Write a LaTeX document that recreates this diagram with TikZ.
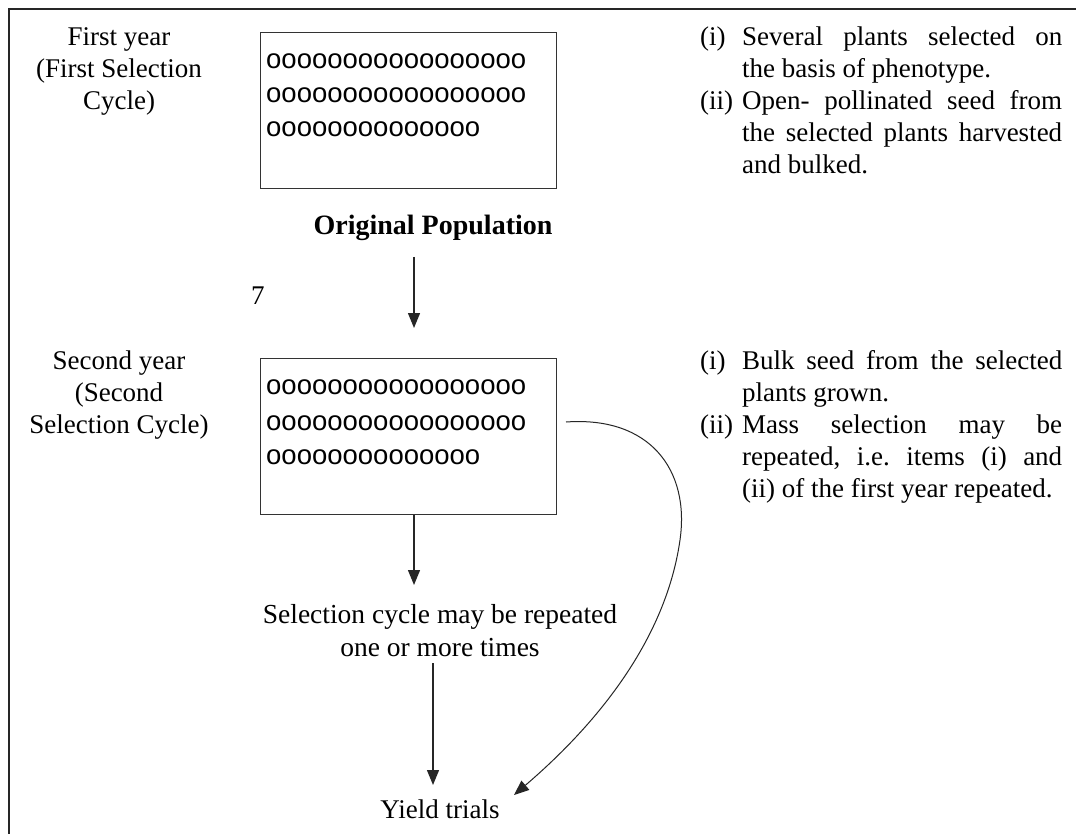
\documentclass[tikz,border=0pt]{standalone}
\usepackage{fontspec}
\setmainfont{Liberation Serif}
\newfontfamily\ofont{Liberation Sans}
\usetikzlibrary{arrows.meta}
\frenchspacing
\newcommand{\jline}[1]{\makebox[320pt][s]{#1}}
\newcommand{\nline}[1]{\makebox[320pt][l]{#1}}
\newcommand{\itemlbl}[1]{\makebox[42pt][l]{#1}}
\newcommand{\cpar}[2]{\parbox[t]{#1}{\centering #2}}
\begin{document}
\begin{tikzpicture}[x=1pt,y=-1pt,
  txt/.style={font=\fontsize{27}{32}\selectfont, inner sep=0pt},
  boldtxt/.style={font=\bfseries\fontsize{28}{32}\selectfont, inner sep=0pt},
  reptxt/.style={font=\fontsize{27.5}{33}\selectfont, inner sep=0pt},
  popbox/.style={draw=black!80, line width=1.3pt, inner sep=0pt, minimum width=296pt, minimum height=156pt, anchor=north west},
  orow/.style={font=\ofont\fontsize{27.5}{33}\selectfont, inner sep=0pt, anchor=base west},
  arr/.style={line width=1.3pt, black!85, -{Triangle[length=15pt,width=12pt]}},
  curv/.style={line width=1pt, black!85, -{Triangle[length=15pt,width=12pt]}},
]
\useasboundingbox (0,0) rectangle (1076,834);
\fill[white] (0,0) rectangle (1076,834);
\draw[line width=2.4pt, black!85] (9,834) -- (9,9) -- (1076,9);

% first year
\node[txt, anchor=base] (lab1) at (119,46) {\cpar{220pt}{First year\\(First Selection\\Cycle)}};
\node[popbox] (box1) at (260,32) {};
\node[orow] (r11) at (266,69) {ooooooooooooooooo};
\node[orow] (r12) at (266,103) {ooooooooooooooooo};
\node[orow] (r13) at (266,137) {oooooooooooooo};
\node[txt, anchor=base west] (note1) at (700,46) {\parbox[t]{362pt}{%
\itemlbl{(i)}\jline{Several plants selected on}\\
\itemlbl{}\nline{the basis of phenotype.}\\
\itemlbl{(ii)}\jline{Open- pollinated seed from}\\
\itemlbl{}\jline{the selected plants harvested}\\
\itemlbl{}\nline{and bulked.}}};

\node[boldtxt, anchor=base] (orig) at (433,235) {Original Population};
\node[txt, anchor=base west] (seven) at (251,305) {7};

% second year
\node[txt, anchor=base] (lab2) at (119,369) {\cpar{220pt}{Second year\\(Second\\Selection Cycle)}};
\node[popbox] (box2) at (260,358) {};
\node[orow] (r21) at (266,394) {ooooooooooooooooo};
\node[orow] (r22) at (266,430) {ooooooooooooooooo};
\node[orow] (r23) at (266,464) {oooooooooooooo};
\node[txt, anchor=base west] (note2) at (700,369) {\parbox[t]{362pt}{%
\itemlbl{(i)}\jline{Bulk seed from the selected}\\
\itemlbl{}\nline{plants grown.}\\
\itemlbl{(ii)}\jline{Mass selection may be}\\
\itemlbl{}\jline{repeated, i.e. items (i) and}\\
\itemlbl{}\nline{(ii) of the first year repeated.}}};

\node[reptxt, anchor=base] (rep) at (440,623) {\cpar{420pt}{Selection cycle may be repeated\\one or more times}};
\node[txt, anchor=base] (yield) at (440,818) {Yield trials};

% connectors
\coordinate (a1s) at (414,257);
\coordinate (a1e) at (414,328);
\draw[arr] (a1s) -- (a1e);
\coordinate (a2e) at (414,585);
\draw[arr] (box2.south -| a2e) -- (a2e);
\coordinate (a3s) at (433,663);
\coordinate (a3e) at (433,785);
\draw[arr] (a3s) -- (a3e);
\coordinate (cs) at (566,422);
\coordinate (ce) at (514,795);
\draw[curv] (cs) .. controls (650,416) and (690,470) .. (680,540) .. controls (665,645) and (590,730) .. (ce);
\end{tikzpicture}
\end{document}
